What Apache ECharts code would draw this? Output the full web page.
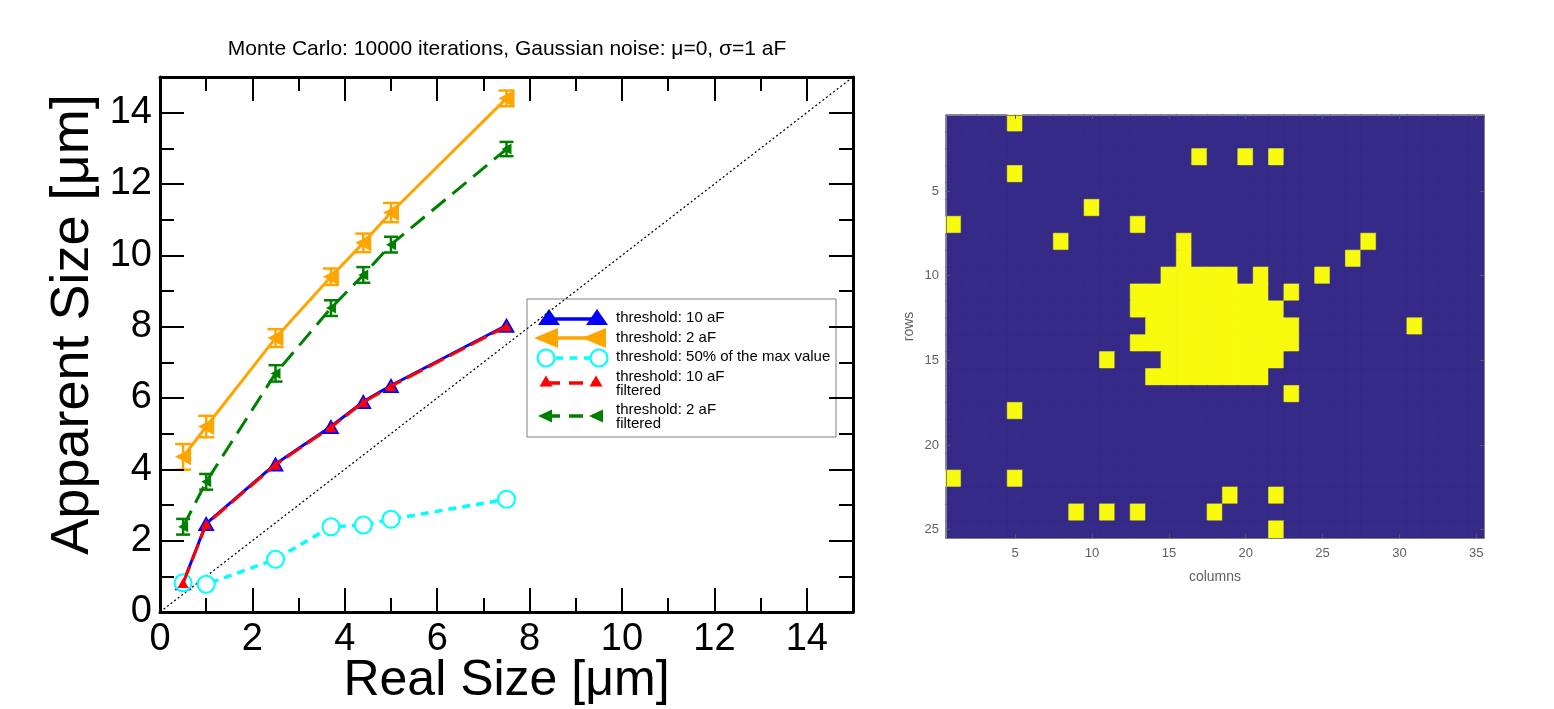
<!DOCTYPE html>
<html>
<head>
<meta charset="utf-8">
<title>Apparent vs real size</title>
<script src="https://cdn.jsdelivr.net/npm/echarts@6/dist/echarts.min.js"></script>
<style>
  html, body { margin: 0; padding: 0; background: #ffffff; }
  #chart { width: 1554px; height: 709px; }
</style>
</head>
<body>
<div id="chart"></div>
<script>
// ---- Monte Carlo size estimates (µm) ----
const realSize = [0.5, 1, 2.5, 3.7, 4.4, 5, 7.5];
const apparent10aF = [0.82, 2.48, 4.15, 5.2, 5.9, 6.35, 8.04];
const apparent2aF = [4.35, 5.2, 7.68, 9.4, 10.35, 11.2, 14.4];
const err2aF = [0.36, 0.3, 0.25, 0.23, 0.26, 0.27, 0.22];
const apparentHalfMax = [0.82, 0.78, 1.48, 2.39, 2.44, 2.6, 3.16];
const apparent10aFFiltered = [0.81, 2.46, 4.13, 5.18, 5.88, 6.33, 8.01];
const apparent2aFFiltered = [2.39, 3.65, 6.69, 8.52, 9.45, 10.3, 12.98];
const err2aFFiltered = [0.22, 0.22, 0.23, 0.22, 0.22, 0.22, 0.2];
const identityLine = [0, 15];

const seriesNames = [
  'threshold: 10 aF',
  'threshold: 2 aF',
  'threshold: 50% of the max value',
  'threshold: 10 aF\nfiltered',
  'threshold: 2 aF\nfiltered'
];

// ---- Thresholded sensor map (rows x columns), 1 = above threshold ----
const mapColumnCount = 35;
const mapRowCount = 25;
const columnTicks = [5, 10, 15, 20, 25, 30, 35];
const rowTicks = [5, 10, 15, 20, 25];
// active column numbers for each row, row 1 first
const activeCells = [
  [5],
  [],
  [17, 20, 22],
  [5],
  [],
  [10],
  [1, 13],
  [8, 16, 28],
  [16, 27],
  [15, 16, 17, 18, 19, 21, 25],
  [13, 14, 15, 16, 17, 18, 19, 20, 21, 23],
  [13, 14, 15, 16, 17, 18, 19, 20, 21, 22],
  [14, 15, 16, 17, 18, 19, 20, 21, 22, 23, 31],
  [13, 14, 15, 16, 17, 18, 19, 20, 21, 22, 23],
  [11, 15, 16, 17, 18, 19, 20, 21, 22],
  [14, 15, 16, 17, 18, 19, 20, 21],
  [23],
  [5],
  [],
  [],
  [],
  [1, 5],
  [19, 22],
  [9, 11, 13, 18],
  [22]
];

const FONT = '"Liberation Sans", Arial, Helvetica, sans-serif';
const BLUE = '#0000ff', ORANGE = '#ffa500', CYAN = '#00ffff', RED = '#ff0000', GREEN = '#008000';
const MAP_LOW = '#352a87', MAP_HIGH = '#f9fb0e';

function pairs(ys) { return realSize.map((x, i) => [x, ys[i]]); }

function errorBars(ys, errs, color, halfCap) {
  return {
    type: 'custom',
    xAxisIndex: 0, yAxisIndex: 0,
    z: 4, silent: true,
    encode: { x: 0, y: [1, 2] },
    data: realSize.map((x, i) => [x, ys[i] - errs[i], ys[i] + errs[i]]),
    renderItem: function (params, api) {
      const lo = api.coord([api.value(0), api.value(1)]);
      const hi = api.coord([api.value(0), api.value(2)]);
      const st = { stroke: color, lineWidth: 2.5 };
      return {
        type: 'group',
        children: [
          { type: 'line', shape: { x1: lo[0], y1: lo[1], x2: hi[0], y2: hi[1] }, style: st },
          { type: 'line', shape: { x1: lo[0] - halfCap, y1: lo[1], x2: lo[0] + halfCap, y2: lo[1] }, style: st },
          { type: 'line', shape: { x1: hi[0] - halfCap, y1: hi[1], x2: hi[0] + halfCap, y2: hi[1] }, style: st }
        ]
      };
    }
  };
}

// frame axes for the size plot: labelled majors every 2, unlabelled minors every 1
function sizeAxis(dim, position, major, withLabels, name) {
  const ax = {
    type: 'value', gridIndex: 0, position: position,
    min: 0, max: 15, interval: major ? 2 : 1,
    axisLine: { show: major, onZero: false, lineStyle: { color: '#000', width: 3 } },
    axisTick: { show: true, inside: true, length: major ? 24 : 14, lineStyle: { color: '#000', width: 2 } },
    axisLabel: {
      show: withLabels, color: '#000', fontSize: 38, fontFamily: FONT,
      margin: dim === 'x' ? 9 : 8, showMaxLabel: false
    },
    splitLine: { show: false },
    z: 5
  };
  if (name) {
    ax.name = name;
    ax.nameLocation = 'middle';
    ax.nameMoveOverlap = false;
    if (dim === 'x') {
      ax.nameGap = 44;
      ax.nameTextStyle = { color: '#000', fontSize: 50, fontFamily: FONT };
    } else {
      ax.nameGap = 60;
      ax.nameTextStyle = { color: '#000', fontSize: 54, fontFamily: FONT, padding: [0, 0, 0, 40] };
    }
  }
  return ax;
}

const columnCats = [];
for (let c = 1; c <= mapColumnCount; c++) columnCats.push(String(c));
const rowCats = [];
for (let r = 1; r <= mapRowCount; r++) rowCats.push(String(r));

const heatData = [];
for (let r = 0; r < mapRowCount; r++) {
  for (let c = 0; c < mapColumnCount; c++) {
    const v = activeCells[r].indexOf(c + 1) >= 0 ? 1 : 0;
    heatData.push({
      value: [c, r, v],
      itemStyle: { borderColor: v ? MAP_HIGH : MAP_LOW, borderWidth: 0.6 }
    });
  }
}

function mapAxis(dim, position, withLabels, cats, ticks, name) {
  const shown = function (idx) { return ticks.indexOf(idx + 1) >= 0; };
  const ax = {
    type: 'category', gridIndex: 1, position: position, data: cats,
    inverse: dim === 'y',
    axisLine: { show: true, onZero: false, lineStyle: { color: '#808080', width: 1 } },
    axisTick: { show: true, inside: true, alignWithLabel: true, interval: shown, length: 4, lineStyle: { color: '#5a5a5a', width: 1 } },
    axisLabel: { show: withLabels, interval: shown, color: '#606060', fontSize: 13, fontFamily: FONT, margin: dim === 'x' ? 9 : 7 },
    splitLine: { show: false },
    z: 5
  };
  if (name) {
    ax.name = name;
    ax.nameLocation = 'middle';
    ax.nameGap = dim === 'x' ? 32 : 30;
    ax.nameMoveOverlap = false;
    ax.nameTextStyle = { color: '#606060', fontSize: 14, fontFamily: FONT };
  }
  return ax;
}

// legend drawn as a boxed key with markers at both ends of each sample line
function triangle(cx, cy, w, h, dir, color) {
  let pts;
  if (dir === 'up') pts = [[cx, cy - h / 2], [cx + w / 2, cy + h / 2], [cx - w / 2, cy + h / 2]];
  else pts = [[cx - w / 2, cy], [cx + w / 2, cy - h / 2], [cx + w / 2, cy + h / 2]];
  return { type: 'polygon', shape: { points: pts }, style: { fill: color } };
}
function sampleLine(x1, x2, y, color, dash) {
  return { type: 'line', shape: { x1: x1, y1: y, x2: x2, y2: y }, style: { stroke: color, lineWidth: 3.5, lineDash: dash || null } };
}
function legendText(y, txt) {
  return { type: 'text', style: { x: 616, y: y, text: txt, fill: '#000', font: '15px ' + FONT, verticalAlign: 'middle', lineHeight: 14 } };
}
const legendEls = [
  { type: 'rect', shape: { x: 527, y: 299, width: 309, height: 138 }, style: { fill: '#fff', stroke: '#808080', lineWidth: 1 } },
  sampleLine(549, 597, 319, BLUE), triangle(549, 317, 22, 16, 'up', BLUE), triangle(597, 317, 22, 16, 'up', BLUE),
  legendText(318, seriesNames[0]),
  sampleLine(548, 594, 338, ORANGE), triangle(546, 338, 24, 20, 'left', ORANGE), triangle(594, 338, 24, 20, 'left', ORANGE),
  legendText(338, seriesNames[1]),
  sampleLine(556, 590, 358, CYAN, [7, 7]),
  { type: 'circle', shape: { cx: 546, cy: 358, r: 8.5 }, style: { fill: 'none', stroke: CYAN, lineWidth: 2.2 } },
  { type: 'circle', shape: { cx: 599, cy: 358, r: 8.5 }, style: { fill: 'none', stroke: CYAN, lineWidth: 2.2 } },
  legendText(357, seriesNames[2]),
  sampleLine(546, 596, 383, RED, [14, 9]), triangle(546, 381, 13, 11, 'up', RED), triangle(596, 381, 13, 11, 'up', RED),
  legendText(384, seriesNames[3]),
  sampleLine(546, 596, 416, GREEN, [14, 9]), triangle(545, 416, 14, 13, 'left', GREEN), triangle(596, 416, 14, 13, 'left', GREEN),
  legendText(417, seriesNames[4])
];

const chart = echarts.init(document.getElementById('chart'), null, { renderer: 'canvas' });

chart.setOption({
  animation: false,
  backgroundColor: '#ffffff',
  textStyle: { fontFamily: FONT },
  title: {
    text: 'Monte Carlo: 10000 iterations, Gaussian noise: μ=0, σ=1 aF',
    left: 507, top: 39, textAlign: 'center', padding: 0,
    textStyle: { fontSize: 21, fontWeight: 'normal', color: '#000', fontFamily: FONT }
  },
  grid: [
    { left: 160, top: 77, width: 693, height: 535, outerBoundsMode: 'none', containLabel: false },
    { left: 946, top: 115, width: 538, height: 423, outerBoundsMode: 'none', containLabel: false,
      show: true, backgroundColor: MAP_LOW, borderWidth: 0 }
  ],
  xAxis: [
    sizeAxis('x', 'bottom', true, true, 'Real Size [μm]'),
    sizeAxis('x', 'bottom', false, false),
    sizeAxis('x', 'top', true, false),
    sizeAxis('x', 'top', false, false),
    mapAxis('x', 'bottom', true, columnCats, columnTicks, 'columns'),
    mapAxis('x', 'top', false, columnCats, columnTicks)
  ],
  yAxis: [
    sizeAxis('y', 'left', true, true, 'Apparent Size [μm]'),
    sizeAxis('y', 'left', false, false),
    sizeAxis('y', 'right', true, false),
    sizeAxis('y', 'right', false, false),
    mapAxis('y', 'left', true, rowCats, rowTicks, 'rows'),
    mapAxis('y', 'right', false, rowCats, rowTicks)
  ],
  visualMap: {
    type: 'piecewise', show: false, seriesIndex: 8, dimension: 2,
    pieces: [{ value: 0, color: MAP_LOW }, { value: 1, color: MAP_HIGH }]
  },
  graphic: [{ type: 'group', z: 50, children: legendEls }],
  series: [
    {
      name: 'identity', type: 'line', xAxisIndex: 0, yAxisIndex: 0, z: 1,
      data: [[identityLine[0], identityLine[0]], [identityLine[1], identityLine[1]]],
      symbol: 'none', silent: true,
      lineStyle: { color: '#000', width: 1.2, type: [2, 2.5] }
    },
    {
      name: seriesNames[0], type: 'line', xAxisIndex: 0, yAxisIndex: 0, z: 2,
      data: pairs(apparent10aF), symbol: 'triangle', symbolSize: [17, 15],
      itemStyle: { color: BLUE }, lineStyle: { color: BLUE, width: 3 }
    },
    {
      name: seriesNames[1], type: 'line', xAxisIndex: 0, yAxisIndex: 0, z: 2,
      data: pairs(apparent2aF), symbol: 'triangle', symbolRotate: 90, symbolSize: [17, 16],
      itemStyle: { color: ORANGE }, lineStyle: { color: ORANGE, width: 3 }
    },
    {
      name: seriesNames[2], type: 'line', xAxisIndex: 0, yAxisIndex: 0, z: 2,
      data: pairs(apparentHalfMax), symbol: 'emptyCircle', symbolSize: 17,
      itemStyle: { color: CYAN, borderColor: CYAN, borderWidth: 2.2 },
      lineStyle: { color: CYAN, width: 3.5, type: [8, 6] }
    },
    {
      name: seriesNames[3], type: 'line', xAxisIndex: 0, yAxisIndex: 0, z: 3,
      data: pairs(apparent10aFFiltered), symbol: 'triangle', symbolSize: [11, 10],
      itemStyle: { color: RED }, lineStyle: { color: RED, width: 3, type: [18, 6] }
    },
    {
      name: seriesNames[4], type: 'line', xAxisIndex: 0, yAxisIndex: 0, z: 3,
      data: pairs(apparent2aFFiltered), symbol: 'triangle', symbolRotate: 90, symbolSize: [11, 10],
      itemStyle: { color: GREEN }, lineStyle: { color: GREEN, width: 3, type: [18, 9] }
    },
    errorBars(apparent2aF, err2aF, ORANGE, 8),
    errorBars(apparent2aFFiltered, err2aFFiltered, GREEN, 7),
    {
      name: 'map', type: 'heatmap', xAxisIndex: 4, yAxisIndex: 4,
      data: heatData, silent: true, emphasis: { disabled: true }
    }
  ]
});
</script>
</body>
</html>
